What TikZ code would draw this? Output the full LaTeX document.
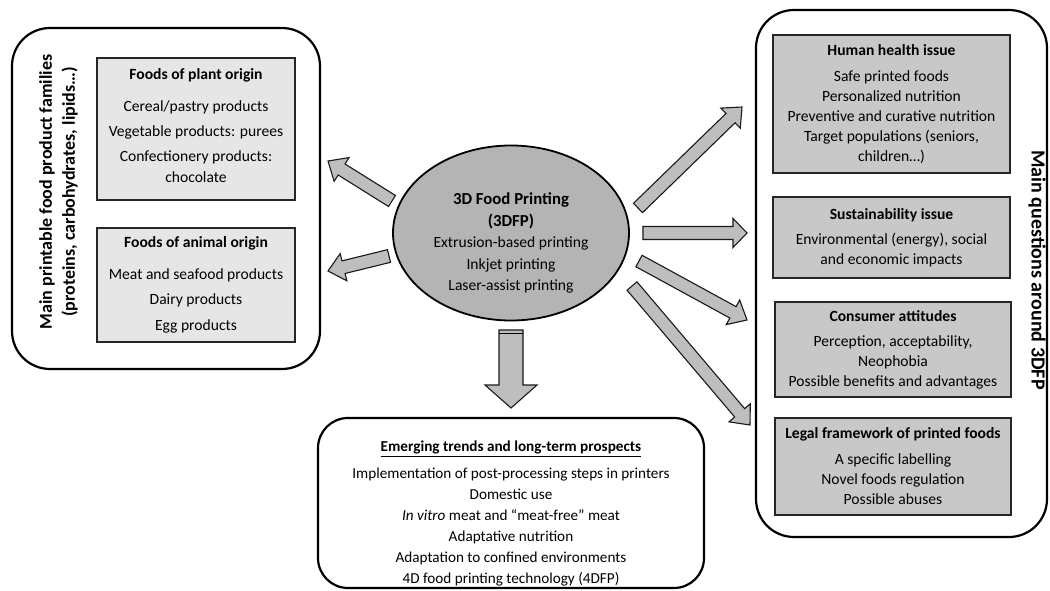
\documentclass[tikz,border=0pt]{standalone}
\usepackage{fontspec}
\setmainfont{Carlito}
\usetikzlibrary{calc,shapes.geometric}
\definecolor{boxlight}{HTML}{E6E6E6}
\definecolor{boxdark}{HTML}{C8C8C8}
\definecolor{ellgray}{HTML}{B4B4B4}
\definecolor{arrgray}{HTML}{BEBEBE}
\newcommand{\blockarrow}[5]{%
  \path let \p1=($(#2)-(#1)$), \n1={atan2(\y1,\x1)}, \n2={veclen(\x1,\y1)} in
    \pgfextra{\xdef\barang{\n1}\xdef\barlen{\n2}};
  \draw[blockarr, shift={(#1)}, rotate=\barang]
    (0,#3) -- ({\barlen-#5},#3) -- ({\barlen-#5},#4) -- (\barlen,0)
    -- ({\barlen-#5},-#4) -- ({\barlen-#5},-#3) -- (0,-#3) -- cycle;
}
\newcommand{\eltitle}[1]{{\bfseries\fontsize{16.8}{22.5}\selectfont #1}}
\tikzset{
  bigbox/.style={draw=black, line width=2.2pt, rounded corners=38pt, inner sep=0pt},
  lightbox/.style={draw=black!85, line width=1.1pt, fill=boxlight, align=center,
    font=\fontsize{15.6}{21}\selectfont, inner sep=0pt},
  darkbox/.style={draw=black!85, line width=1.1pt, fill=boxdark, align=center,
    font=\fontsize{15.6}{20}\selectfont, inner sep=0pt},
  blockarr/.style={draw=black!90, line width=1.1pt, fill=arrgray, line join=miter},
  sidetitle/.style={font=\bfseries\fontsize{18}{23}\selectfont, align=center, inner sep=0pt},
}
\begin{document}
\begin{tikzpicture}[x=1pt,y=-1pt]
\fill[white] (0,0) rectangle (1050,591);
\useasboundingbox (0,0) rectangle (1050,591);

% left group
\node[bigbox, minimum width=308pt, minimum height=341pt] (leftbox) at (166,198.5) {};
\node[sidetitle, rotate=90] (lefttitle) at (58.5,192) {Main printable food product families\\(proteins, carbohydrates, lipids…)};
\node[lightbox, minimum width=198pt, minimum height=142pt] (plant) at (196,129) {};
\node[align=center, inner sep=0pt, font=\fontsize{15.6}{21}\selectfont] (planttext) at (196,126)
 {\textbf{Foods of plant origin}\\[11pt]Cereal/pastry products\\[4pt]Vegetable products: purees\\[4pt]Confectionery products:\\chocolate};
\node[lightbox, minimum width=198pt, minimum height=114pt] (animal) at (196,285)
 {\textbf{Foods of animal origin}\\[11pt]Meat and seafood products\\[4pt]Dairy products\\[5pt]Egg products};

% center
\node[ellipse, draw=black, line width=1.8pt, fill=ellgray, minimum width=236pt, minimum height=175pt,
  inner sep=0pt] (fp) at (511,233) {};
\node[align=center, inner sep=0pt, font=\fontsize{15.6}{21.5}\selectfont] (fptext) at (511,243)
 {\eltitle{3D Food Printing}\\\eltitle{(3DFP)}\\Extrusion-based printing\\Inkjet printing\\Laser-assist printing};

% right group
\node[bigbox, minimum width=291pt, minimum height=527pt] (rightbox) at (901.5,273.5) {};
\node[sidetitle, rotate=-90, font=\bfseries\fontsize{20}{22}\selectfont] (righttitle) at (1037,270) {Main questions around 3DFP};
\node[darkbox, minimum width=237pt, minimum height=138pt] (health) at (891.5,104)
 {\textbf{Human health issue}\\[6pt]Safe printed foods\\Personalized nutrition\\Preventive and curative nutrition\\Target populations (seniors,\\children…)};
\node[darkbox, minimum width=237pt, minimum height=81pt] (sust) at (891.5,237.5)
 {\textbf{Sustainability issue}\\[5pt]Environmental (energy), social\\and economic impacts};
\node[darkbox, minimum width=236pt, minimum height=95pt] (cons) at (893,349.5)
 {\textbf{Consumer attitudes}\\[5pt]Perception, acceptability,\\Neophobia\\Possible benefits and advantages};
\node[darkbox, minimum width=236pt, minimum height=97pt] (legal) at (893,466.5)
 {\textbf{Legal framework of printed foods}\\[6pt]A specific labelling\\Novel foods regulation\\Possible abuses};

% bottom group
\node[bigbox, rounded corners=30pt, minimum width=386pt, minimum height=170pt] (botbox) at (511,503) {};
\node[align=center, anchor=north, inner sep=0pt, font=\fontsize{15.2}{21}\selectfont] (bottext) at (511,441)
 {\textbf{\underline{Emerging trends and long-term prospects}}\\[6pt]Implementation of post-processing steps in printers\\Domestic use\\\textit{In vitro} meat and ``meat-free'' meat\\Adaptative nutrition\\Adaptation to confined environments\\4D food printing technology (4DFP)};

% arrow end points
\coordinate (a1s) at (392,201); \coordinate (a1e) at (328,161);
\coordinate (a2s) at (389,256); \coordinate (a2e) at (328,271);
\coordinate (a3s) at (638,208); \coordinate (a3e) at (742,107);
\coordinate (a4s) at (643,233); \coordinate (a4e) at (747,233);
\coordinate (a5s) at (639,261); \coordinate (a5e) at (747,320);
\coordinate (a6s) at (632,286); \coordinate (a6e) at (750,425);
\coordinate (a7s) at (511,330); \coordinate (a7e) at (511,408);

\blockarrow{a1s}{a1e}{6.5}{14}{16}
\blockarrow{a2s}{a2e}{6.5}{14}{16}
\blockarrow{a3s}{a3e}{6.5}{14}{16}
\blockarrow{a4s}{a4e}{6.5}{14.5}{14}
\blockarrow{a5s}{a5e}{6.5}{14}{16}
\blockarrow{a6s}{a6e}{6.5}{14}{16}
\blockarrow{a7s}{a7e}{12}{26}{23}
\draw[line width=1.6pt] ($(a7s)+(-12,3.5)$) -- ($(a7s)+(12,3.5)$);
\end{tikzpicture}
\end{document}
